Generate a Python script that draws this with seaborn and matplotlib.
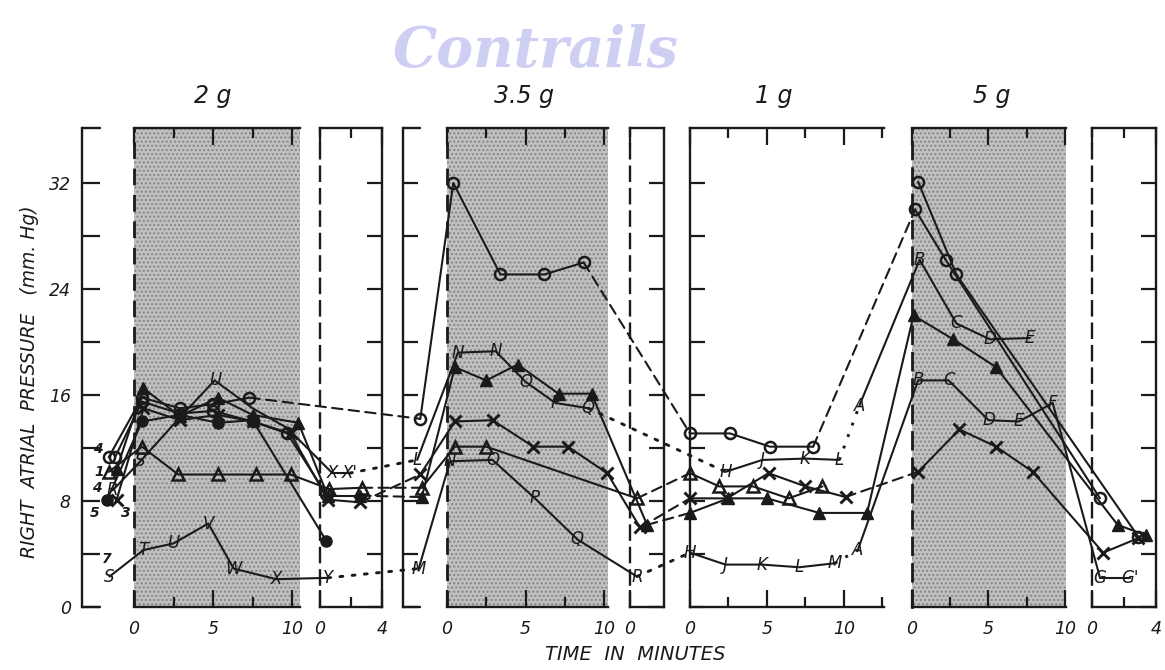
import matplotlib
matplotlib.use("Agg")
import matplotlib.pyplot as plt
import seaborn as sns
from matplotlib.patches import ConnectionPatch

sns.set_theme(style="white")
plt.rcParams["font.family"] = ["DejaVu Sans"]
plt.rcParams["text.color"] = "k"
plt.rcParams["xtick.color"] = "k"
plt.rcParams["ytick.color"] = "k"
plt.rcParams["axes.edgecolor"] = "k"

# ---------------------------------------------------------------------------
# Data: right atrial pressure (mm Hg) against time (minutes) for each subject.
# Panels: g2 / g35 / g1 / g5 = runs at 2 g, 3.5 g, 1 g, 5 g; "r" = recovery.
# Segment codes: "-" solid, "--" dashed, ":" dotted.
# ---------------------------------------------------------------------------
circ1_panel = ["g2", "g2", "g2", "g2", "g2", "g35", "g35", "g35", "g35", "g35",
               "g1", "g1", "g1", "g1", "g5", "g5", "g5r"]
circ1_min = [-1.6, 0.5, 2.9, 5.0, 7.3, -1.7, 0.4, 3.4, 6.2, 8.7,
             0.0, 2.6, 5.2, 8.0, 0.2, 2.2, 0.5]
circ1_mmhg = [11.3, 15.8, 15.0, 15.3, 15.8, 14.2, 32.0, 25.1, 25.1, 26.0,
              13.1, 13.1, 12.1, 12.1, 30.0, 26.2, 8.2]
circ1_segs = ["-", "-", "-", "-", "--", "-", "-", "-", "-", "--",
              "-", "-", "-", "--", "-", "-"]

circ2_panel = ["g2", "g2", "g2", "g2", "g2", "g2", "g2r"]
circ2_min = [-1.2, 0.5, 2.9, 5.0, 7.5, 9.7, 0.4]
circ2_mmhg = [11.3, 15.5, 14.6, 14.8, 14.0, 13.1, 8.5]
circ2_segs = ["-", "-", "-", "-", "-", "-"]

circ3_panel = ["g5", "g5", "g5r"]
circ3_min = [0.4, 2.9, 2.9]
circ3_mmhg = [32.1, 25.1, 5.3]
circ3_segs = ["-", "-"]

ftri_panel = ["g2", "g2", "g2", "g2", "g2", "g2", "g2r", "g2r",
              "g35", "g35", "g35", "g35", "g35", "g35", "g35r",
              "g1", "g1", "g1", "g1", "g1", "g5", "g5", "g5", "g5r", "g5r"]
ftri_min = [-1.1, 0.6, 2.9, 5.3, 7.5, 10.4, 0.5, 2.6,
            -1.6, 0.5, 2.5, 4.5, 7.1, 9.2, 1.1,
            0.0, 2.5, 5.0, 8.4, 11.5, 0.1, 2.7, 5.5, 1.6, 3.4]
ftri_mmhg = [10.4, 16.5, 14.4, 15.8, 14.5, 13.9, 8.4, 8.4,
             8.3, 18.1, 17.1, 18.3, 16.1, 16.1, 6.2,
             7.1, 8.2, 8.2, 7.1, 7.1, 22.0, 20.2, 18.1, 6.2, 5.4]
ftri_segs = ["-", "-", "-", "-", "-", "-", "-", "--",
             "-", "-", "-", "-", "-", "-", "--",
             "-", "-", "-", "-", "-", "-", "-", "-", "-"]

otri_panel = ["g2", "g2", "g2", "g2", "g2", "g2", "g2r", "g2r",
              "g35", "g35", "g35", "g35r", "g1", "g1", "g1", "g1", "g1"]
otri_min = [-1.6, 0.5, 2.8, 5.3, 7.7, 9.9, 0.6, 2.7,
            -1.6, 0.5, 2.5, 0.45, 0.0, 1.9, 4.1, 6.4, 8.6]
otri_mmhg = [10.2, 12.1, 10.0, 10.0, 10.0, 10.0, 8.9, 9.0,
             9.0, 12.1, 12.1, 8.2, 10.1, 9.1, 9.1, 8.2, 9.1]
otri_segs = ["-", "-", "-", "-", "-", "-", "-", "--",
             "-", "-", "-", "--", "-", "-", "-", "-"]

fcirc_panel = ["g2", "g2", "g2", "g2", "g2", "g2r"]
fcirc_min = [-1.7, 0.5, 2.9, 5.3, 7.5, 0.4]
fcirc_mmhg = [8.1, 14.0, 14.5, 13.9, 14.1, 5.0]
fcirc_segs = ["-", "-", "-", "-", "-"]

cross_panel = ["g2", "g2", "g2", "g2", "g2", "g2", "g2r", "g2r",
               "g35", "g35", "g35", "g35", "g35", "g35", "g35r",
               "g1", "g1", "g1", "g1", "g1", "g5", "g5", "g5", "g5", "g5r", "g5r"]
cross_min = [-1.1, 0.6, 2.9, 5.3, 7.5, 9.9, 0.5, 2.6,
             -1.7, 0.5, 2.9, 5.5, 7.7, 10.2, 0.65,
             0.0, 2.4, 5.1, 7.5, 10.1, 0.4, 3.1, 5.5, 7.9, 0.7, 2.9]
cross_mmhg = [8.1, 15.0, 14.1, 14.5, 14.0, 13.1, 8.1, 7.9,
              10.0, 14.0, 14.1, 12.1, 12.1, 10.1, 6.0,
              8.2, 8.2, 10.1, 9.1, 8.3, 10.2, 13.4, 12.1, 10.2, 4.1, 5.2]
cross_segs = ["-", "-", "-", "-", "-", "-", "-", "--",
              "-", "-", "-", "-", "-", "-", "--",
              "-", "-", "-", "-", "--", "-", "-", "-", "-", "-"]

# lettered subject, upper trace
upper_panel = ["g2", "g2", "g2", "g2", "g2", "g2", "g2r", "g2r",
               "g35", "g35", "g35", "g35", "g35", "g35",
               "g1", "g1", "g1", "g1", "g1", "g5", "g5", "g5", "g5"]
upper_min = [-1.35, 0.4, 2.9, 5.1, 7.5, 9.7, 0.8, 1.9,
             -1.9, 0.7, 3.1, 5.0, 6.9, 9.0,
             2.3, 4.7, 7.5, 9.7, 11.0, 0.5, 2.9, 5.1, 7.7]
upper_mmhg = [8.8, 11.0, 14.3, 17.1, 15.0, 13.5, 10.1, 10.1,
              11.1, 19.2, 19.3, 17.0, 15.4, 15.0,
              10.2, 11.1, 11.2, 11.1, 15.2, 26.2, 21.4, 20.2, 20.3]
upper_tags = ["R", "S", "", "U", "", "", "X", "X'",
              "L", "N", "N", "O", "P", "Q",
              "H", "J", "K", "L", "A", "B", "C", "D", "E"]
upper_segs = ["-", "-", "-", "-", "-", "-", "-", ":",
              "-", "-", "-", "-", "-", ":",
              "-", "-", "-", ":", "-", "-", "-", "-"]

# lettered subject, lower trace
lower_panel = ["g2", "g2", "g2", "g2", "g2", "g2", "g2r",
               "g35", "g35", "g35", "g35", "g35", "g35r",
               "g1", "g1", "g1", "g1", "g1", "g1",
               "g5", "g5", "g5", "g5", "g5", "g5r", "g5r"]
lower_min = [-1.55, 0.6, 2.5, 4.7, 6.3, 9.0, 0.5,
             -1.8, 0.2, 2.9, 5.6, 8.3, 0.45,
             0.0, 2.3, 4.7, 7.1, 9.4, 10.9,
             0.4, 2.4, 5.0, 7.0, 9.2, 0.5, 2.4]
lower_mmhg = [2.3, 4.3, 4.8, 6.3, 2.9, 2.1, 2.2,
              2.9, 11.0, 11.1, 8.2, 5.1, 2.3,
              4.1, 3.2, 3.2, 3.0, 3.3, 4.3,
              17.1, 17.1, 14.1, 14.0, 15.4, 2.2, 2.2]
lower_tags = ["S", "T", "U", "V", "W", "X", "Y",
              "M", "N", "O", "P", "Q", "R",
              "H", "J", "K", "L", "M", "A",
              "B", "C", "D", "E", "F", "G", "G'"]
lower_segs = ["-", "-", "-", "-", "-", "-", ":",
              "-", "-", "-", "-", "-", ":",
              "-", "-", "-", "-", ":", "-",
              "-", "-", "-", "-", "-", "-"]

# subject numbers written beside the pre-run points
pre_tags = ["4", "1", "4", "5", "3", "7"]
pre_tag_min = [-2.3, -2.2, -2.35, -2.5, -0.55, -1.75]
pre_tag_mmhg = [11.9, 10.2, 9.0, 7.1, 7.1, 3.6]

run_titles = ["2 g", "3.5 g", "1 g", "5 g"]

# ---------------------------------------------------------------------------
W, H = 1165, 670
fig = plt.figure(figsize=(W / 100, H / 100), dpi=100)
Y_BOT, Y_TOP = 607, 128
YMAX = 36.15

LAYOUT = {  # left px, right px, x-limits in minutes
    "g2": (82, 300, (-3.29, 10.5)),
    "g2r": (320, 382, (0, 4)),
    "g35": (403, 608, (-2.8, 10.25)),
    "g35r": (630, 664, (0, 2.19)),
    "g1": (690, 884, (0, 12.6)),
    "g5": (912, 1066, (0, 10.07)),
    "g5r": (1092, 1156, (0, 4)),
}
axes = {}
for name, (x0, x1, xl) in LAYOUT.items():
    ax = fig.add_axes([x0 / W, 1 - Y_BOT / H, (x1 - x0) / W, (Y_BOT - Y_TOP) / H])
    ax.set_facecolor("none")
    axes[name] = ax

LS = {"-": "-", "--": (0, (5, 3)), ":": (0, (1, 3.2))}
LW = {"-": 1.5, "--": 1.5, ":": 2.1}
MARKS = {
    "circle": dict(marker="o", markersize=8, markerfacecolor="none",
                   markeredgecolor="k", markeredgewidth=1.8),
    "dot": dict(marker="o", markersize=8, markerfacecolor="k",
                markeredgecolor="k", markeredgewidth=1.0),
    "tri": dict(marker="^", markersize=9, markerfacecolor="none",
                markeredgecolor="k", markeredgewidth=1.8),
    "ftri": dict(marker="^", markersize=9, markerfacecolor="k",
                 markeredgecolor="k", markeredgewidth=1.0),
    "x": dict(marker="x", markersize=9, markerfacecolor="k",
              markeredgecolor="k", markeredgewidth=2.1),
    "none": dict(),
}


def draw_series(panel, minute, mmhg, segs, mark, tags=None):
    n = len(minute)
    runs = [[0]]
    for i in range(n - 1):
        same = panel[i] == panel[i + 1]
        style = segs[i]
        if same and style == "-":
            runs[-1].append(i + 1)
            continue
        if same:
            sns.lineplot(x=[minute[i], minute[i + 1]], y=[mmhg[i], mmhg[i + 1]],
                         ax=axes[panel[i]], color="k", linewidth=LW[style],
                         linestyle=LS[style], sort=False, estimator=None,
                         clip_on=False, zorder=3)
        else:
            con = ConnectionPatch(xyA=(minute[i], mmhg[i]), coordsA="data",
                                  axesA=axes[panel[i]],
                                  xyB=(minute[i + 1], mmhg[i + 1]), coordsB="data",
                                  axesB=axes[panel[i + 1]],
                                  color="k", linewidth=LW[style],
                                  linestyle=LS[style], zorder=3)
            fig.add_artist(con)
        runs.append([i + 1])
    for run in runs:
        ax = axes[panel[run[0]]]
        sns.lineplot(x=[minute[j] for j in run], y=[mmhg[j] for j in run],
                     ax=ax, color="k", linewidth=1.5, sort=False, estimator=None,
                     clip_on=False, zorder=4, **MARKS[mark])
    if tags is not None:
        for j, t in enumerate(tags):
            if t:
                axes[panel[j]].text(minute[j], mmhg[j], t, ha="center", va="center",
                                    fontsize=12, style="italic", color="k",
                                    zorder=6, clip_on=False)


draw_series(circ1_panel, circ1_min, circ1_mmhg, circ1_segs, "circle")
draw_series(circ2_panel, circ2_min, circ2_mmhg, circ2_segs, "circle")
draw_series(circ3_panel, circ3_min, circ3_mmhg, circ3_segs, "circle")
draw_series(ftri_panel, ftri_min, ftri_mmhg, ftri_segs, "ftri")
draw_series(otri_panel, otri_min, otri_mmhg, otri_segs, "tri")
draw_series(fcirc_panel, fcirc_min, fcirc_mmhg, fcirc_segs, "dot")
draw_series(cross_panel, cross_min, cross_mmhg, cross_segs, "x")
draw_series(upper_panel, upper_min, upper_mmhg, upper_segs, "none", upper_tags)
draw_series(lower_panel, lower_min, lower_mmhg, lower_segs, "none", lower_tags)

for t, xm, ym in zip(pre_tags, pre_tag_min, pre_tag_mmhg):
    axes["g2"].text(xm, ym, t, ha="center", va="center", fontsize=10,
                    style="italic", fontweight="bold", zorder=6)

# ---------------------------------------------------------------------------
# frames, shading, ticks
DASH = (0, (6, 3.5))
SPINE_W = 1.7
yt = list(range(0, 33, 4))
tick_font = dict(fontsize=12.5, style="italic")
shade_kw = dict(facecolor="#c0c0c0", hatch="....", edgecolor="#858585",
                linewidth=0, zorder=0)

for name, ax in axes.items():
    x0, x1, xl = LAYOUT[name]
    ax.set_xlim(*xl)
    ax.set_ylim(0, YMAX)
    ax.set_xlabel("")
    ax.set_ylabel("")
    for sp in ax.spines.values():
        sp.set_linewidth(SPINE_W)
        sp.set_color("k")
    ax.tick_params(axis="both", which="both", direction="in", color="k",
                   width=1.6, labelsize=12.5, labelcolor="k")
    ax.tick_params(axis="x", which="major", length=12, top=True, bottom=True,
                   pad=9)
    ax.tick_params(axis="x", which="minor", length=7, top=True, bottom=True)
    ax.set_yticks(yt)
    ax.tick_params(axis="y", which="major", length=11, left=False, right=False,
                   labelleft=False)

# 2 g run
ax = axes["g2"]
ax.axvspan(0, 10.5, **shade_kw)
ax.axvline(0, color="k", linewidth=2.0, linestyle=DASH, zorder=2)
ax.spines["right"].set_visible(False)
ax.spines["top"].set_bounds(0, 10.5)
ax.spines["bottom"].set_bounds(0, 10.5)
ax.plot([-3.29, -2.15], [YMAX, YMAX], color="k", lw=SPINE_W, clip_on=False)
ax.plot([-3.29, -2.15], [0, 0], color="k", lw=SPINE_W, clip_on=False)
ax.set_xticks([0, 5, 10])
ax.set_xticks([2.5, 7.5], minor=True)
ax.tick_params(axis="y", which="major", left=True, labelleft=True, length=13,
               pad=8)
ax.set_yticklabels([str(v) if v % 8 == 0 else "" for v in yt], **tick_font)
ax.set_xticklabels(["0", "5", "10"], **tick_font)

# 2 g recovery
ax = axes["g2r"]
ax.spines["left"].set_linestyle(DASH)
ax.set_xticks([0, 4])
ax.set_xticks([2], minor=True)
ax.set_xticklabels(["0", "4"], **tick_font)
ax.tick_params(axis="y", which="major", right=True)

# 3.5 g run
ax = axes["g35"]
ax.axvspan(0, 10.25, **shade_kw)
ax.axvline(0, color="k", linewidth=2.0, linestyle=DASH, zorder=2)
ax.spines["right"].set_visible(False)
ax.spines["top"].set_bounds(0, 10.25)
ax.spines["bottom"].set_bounds(0, 10.25)
ax.plot([-2.8, -1.7], [YMAX, YMAX], color="k", lw=SPINE_W, clip_on=False)
ax.plot([-2.8, -1.7], [0, 0], color="k", lw=SPINE_W, clip_on=False)
ax.set_xticks([0, 5, 10])
ax.set_xticks([2.5, 7.5], minor=True)
ax.set_xticklabels(["0", "5", "10"], **tick_font)
ax.tick_params(axis="y", which="major", left=True)

# 3.5 g recovery
ax = axes["g35r"]
ax.spines["left"].set_linestyle(DASH)
ax.set_xticks([0])
ax.set_xticklabels(["0"], **tick_font)
ax.tick_params(axis="y", which="major", right=True)

# 1 g run
ax = axes["g1"]
ax.spines["right"].set_visible(False)
ax.set_xticks([0, 5, 10])
ax.set_xticks([2.5, 7.5, 12.5], minor=True)
ax.set_xticklabels(["0", "5", "10"], **tick_font)
ax.tick_params(axis="y", which="major", left=True)

# 5 g run
ax = axes["g5"]
ax.axvspan(0, 10.07, **shade_kw)
ax.spines["left"].set_linestyle(DASH)
ax.spines["left"].set_linewidth(2.0)
ax.spines["right"].set_visible(False)
ax.set_xticks([0, 5, 10])
ax.set_xticks([2.5, 7.5], minor=True)
ax.set_xticklabels(["0", "5", "10"], **tick_font)

# 5 g recovery
ax = axes["g5r"]
ax.spines["left"].set_linestyle(DASH)
ax.set_xticks([0, 4])
ax.set_xticks([2], minor=True)
ax.set_xticklabels(["0", "4"], **tick_font)
ax.tick_params(axis="y", which="major", right=True)

# ---------------------------------------------------------------------------
# titles and axis captions
title_x = [213, 524, 774, 992]
for t, xp in zip(run_titles, title_x):
    fig.text(xp / W, 1 - 96 / H, t, ha="center", va="center", fontsize=17,
             style="italic")

fig.text(30 / W, 1 - 382 / H, "RIGHT  ATRIAL  PRESSURE   (mm. Hg)",
         rotation=90, ha="center", va="center", fontsize=13.5, style="italic")
fig.text(635 / W, 1 - 655 / H, "TIME  IN  MINUTES", ha="center", va="center",
         fontsize=14, style="italic")
fig.text(535 / W, 1 - 52 / H, "Contrails", ha="center", va="center",
         fontsize=40, style="italic", fontweight="bold", family="DejaVu Serif",
         color="#c4c4f2", alpha=0.8)

fig.savefig("out.png", dpi=100)
